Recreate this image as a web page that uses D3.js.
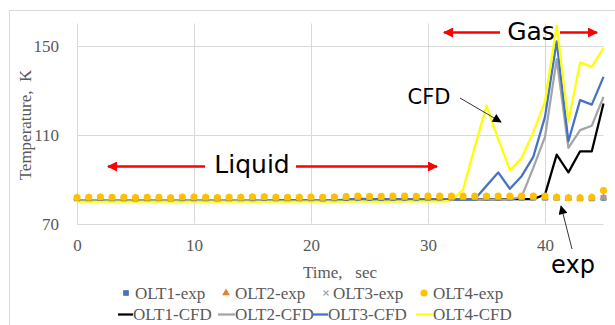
<!DOCTYPE html>
<html>
<head>
<meta charset="utf-8">
<script src="https://cdn.jsdelivr.net/npm/d3@7"></script>
<style>
  body { margin: 0; background: #fff; }
  svg text { font-family: "Liberation Serif", "Times New Roman", serif; }
  .note { font-family: "DejaVu Sans", Verdana, sans-serif; fill: #000; }
</style>
</head>
<body>
<div id="chart"></div>
<script>
// time, sec
var time = [0, 1, 2, 3, 4, 5, 6, 7, 8, 9, 10, 11, 12, 13, 14, 15, 16, 17, 18, 19, 20, 21, 22,
            23, 24, 25, 26, 27, 28, 29, 30, 31, 32, 33, 34, 35, 36, 37, 38, 39, 40, 41, 42, 43, 44, 45];

// experimental points, K
var olt1Exp = [81.3, 81.3, 81.4, 81.3, 81.3, 81.2, 81.3, 81.3, 81.2, 81.3, 81.3, 81.3, 81.2, 81.3, 81.3, 81.3,
               81.4, 81.3, 81.3, 81.3, 81.3, 81.2, 81.3, 81.4, 81.5, 81.4, 81.4, 81.5, 81.5, 81.5, 81.6,
               81.6, 81.6, 81.6, 81.6, 81.6, 81.6, 81.6, 81.6, 81.6, 81.6, 81.6, 81.4, 81.3, 81.3, 81.5];
var olt2Exp = [81.5, 81.5, 81.6, 81.5, 81.5, 81.4, 81.5, 81.5, 81.4, 81.5, 81.5, 81.5, 81.4, 81.5, 81.5, 81.5,
               81.6, 81.5, 81.5, 81.5, 81.5, 81.4, 81.5, 81.6, 81.7, 81.6, 81.6, 81.7, 81.7, 81.7, 81.8,
               81.8, 81.8, 81.8, 81.8, 81.8, 81.8, 81.8, 81.8, 81.8, 81.8, 81.7, 81.5, 81.5, 81.5, 81.7];
var olt3Exp = [81.4, 81.4, 81.5, 81.4, 81.4, 81.3, 81.4, 81.4, 81.3, 81.4, 81.4, 81.4, 81.3, 81.4, 81.4, 81.4,
               81.5, 81.4, 81.4, 81.4, 81.4, 81.3, 81.4, 81.5, 81.6, 81.5, 81.5, 81.6, 81.6, 81.6, 81.7,
               81.7, 81.7, 81.7, 81.7, 81.7, 81.7, 81.7, 81.7, 81.7, 81.7, 81.6, 81.4, 81.4, 81.4, 81.6];
var olt4Exp = [81.7, 81.8, 81.9, 81.8, 81.8, 81.7, 81.8, 81.8, 81.6, 81.9, 81.9, 81.8, 81.7, 81.8, 81.8, 82.0,
               82.0, 81.8, 81.8, 81.8, 81.9, 81.8, 81.9, 82.1, 82.3, 82.2, 82.2, 82.3, 82.3, 82.2, 82.3,
               82.3, 82.3, 82.3, 82.3, 82.3, 82.3, 82.3, 82.3, 82.3, 82.3, 81.8, 81.6, 81.6, 81.8, 84.8];

// CFD results, K
var olt1Cfd = [80.2, 80.2, 80.2, 80.2, 80.2, 80.2, 80.2, 80.2, 80.2, 80.2, 80.2, 80.2, 80.2, 80.2, 80.2, 80.2,
               80.2, 80.3, 80.5, 80.4, 80.3, 80.3, 80.4, 80.6, 81.0, 81.0, 80.9, 80.9, 80.9, 80.9, 80.9,
               80.9, 80.9, 80.9, 80.9, 80.9, 80.9, 81.0, 81.0, 81.0, 83.0, 101.0, 93.0, 102.5, 102.5, 124.0];
var olt2Cfd = [80.3, 80.3, 80.3, 80.3, 80.3, 80.3, 80.3, 80.3, 80.3, 80.3, 80.3, 80.3, 80.3, 80.3, 80.3, 80.3,
               80.3, 80.3, 80.4, 80.4, 80.3, 80.3, 80.4, 80.5, 80.8, 80.8, 80.7, 80.7, 80.7, 80.7, 80.7,
               80.7, 80.7, 80.7, 80.7, 80.7, 80.8, 80.9, 82.0, 95.0, 109.0, 144.0, 104.0, 112.0, 114.0, 127.0];
var olt3Cfd = [80.2, 80.2, 80.2, 80.2, 80.2, 80.2, 80.2, 80.2, 80.2, 80.2, 80.2, 80.2, 80.2, 80.2, 80.2, 80.2,
               80.2, 80.3, 80.5, 80.4, 80.3, 80.3, 80.4, 80.7, 81.2, 81.0, 80.9, 80.9, 80.9, 80.8, 80.8,
               80.8, 80.8, 80.8, 80.9, 87.0, 93.0, 85.6, 91.3, 100.0, 118.0, 152.0, 107.0, 125.5, 123.5, 136.0];
var olt4Cfd = [79.8, 79.8, 79.8, 79.8, 79.8, 79.8, 79.8, 79.8, 79.8, 79.8, 79.8, 79.8, 79.8, 79.8, 79.8, 79.8,
               79.8, 79.8, 79.8, 79.8, 79.8, 79.8, 79.8, 79.8, 79.9, 79.9, 79.9, 79.9, 80.0, 80.0, 80.0,
               80.0, 80.2, 85.3, 104.5, 123.0, 108.0, 94.0, 99.5, 111.0, 125.0, 159.0, 116.0, 142.5, 140.5, 149.0];

var xTicks = [0, 10, 20, 30, 40];
var yTicks = [70, 110, 150];

var expNames = ["OLT1-exp", "OLT2-exp", "OLT3-exp", "OLT4-exp"];
var cfdNames = ["OLT1-CFD", "OLT2-CFD", "OLT3-CFD", "OLT4-CFD"];

createChart();

function createChart() {
    var frame_width  = 615,
        frame_height = 325,
        grid_color   = "#d9d9d9",
        text_color   = "#595959";

    var svg = d3.select("#chart").append("svg")
        .attr("width", frame_width)
        .attr("height", frame_height);

    svg.append("rect")
        .attr("width", frame_width).attr("height", frame_height)
        .attr("fill", "#fff");

    // outer chart border (runs off the right and bottom)
    svg.append("rect")
        .attr("x", 9.5).attr("y", 10.5)
        .attr("width", 640).attr("height", 340)
        .attr("fill", "none")
        .attr("stroke", grid_color);

    var x = d3.scaleLinear().domain([0, 45]).range([77, 603.5]);
    var y = d3.scaleLinear().domain([70, 160]).range([223.5, 23.5]);

    // gridlines
    svg.append("g").selectAll("line.v")
        .data(xTicks).enter().append("line")
        .attr("x1", function(d) { return Math.round(x(d)) + 0.5; })
        .attr("x2", function(d) { return Math.round(x(d)) + 0.5; })
        .attr("y1", y(160)).attr("y2", y(70))
        .attr("stroke", grid_color);
    svg.append("g").selectAll("line.h")
        .data(yTicks).enter().append("line")
        .attr("x1", x(0)).attr("x2", x(45))
        .attr("y1", function(d) { return Math.round(y(d)) + 0.5; })
        .attr("y2", function(d) { return Math.round(y(d)) + 0.5; })
        .attr("stroke", grid_color);

    // axes (labels only, Excel style)
    var xAxis = svg.append("g")
        .attr("transform", "translate(0," + (y(70) + 10) + ")")
        .call(d3.axisBottom(x).tickValues(xTicks).tickSize(0).tickPadding(0));
    var yAxis = svg.append("g")
        .attr("transform", "translate(" + (x(0) - 18) + ",0)")
        .call(d3.axisLeft(y).tickValues(yTicks).tickSize(0).tickPadding(0));
    [xAxis, yAxis].forEach(function(a) {
        a.select(".domain").remove();
        a.selectAll("text")
            .attr("font-family", "Liberation Serif, serif")
            .attr("font-size", 17)
            .attr("fill", text_color);
    });
    xAxis.selectAll("text").attr("dy", "0.75em").attr("y", 5);
    yAxis.selectAll("text").attr("dy", "0.35em").attr("x", 0);

    svg.append("text")
        .attr("x", 340).attr("y", 272).attr("dy", "0.35em")
        .attr("text-anchor", "middle")
        .attr("font-size", 17).attr("fill", text_color)
        .attr("xml:space", "preserve")
        .text("Time,   sec");

    svg.append("text")
        .attr("transform", "translate(25,125) rotate(-90)")
        .attr("dy", "0.35em")
        .attr("text-anchor", "middle")
        .attr("font-size", 17).attr("fill", text_color)
        .attr("xml:space", "preserve")
        .text("Temperature,  K");

    // CFD lines
    var lineColors = ["#000000", "#a5a5a5", "#4472c4", "#ffff00"];
    var cfd = [olt1Cfd, olt2Cfd, olt3Cfd, olt4Cfd];
    var line = d3.line()
        .x(function(d, i) { return x(time[i]); })
        .y(function(d) { return y(d); });
    cfd.forEach(function(s, k) {
        svg.append("path")
            .datum(s)
            .attr("fill", "none")
            .attr("stroke", lineColors[k])
            .attr("stroke-width", 2.25)
            .attr("stroke-linejoin", "round")
            .attr("d", line);
    });

    // experimental markers
    var markColors = ["#4472c4", "#ed7d31", "#a5a5a5", "#ffc000"];
    var markSymbols = [d3.symbolSquare, d3.symbolTriangle, d3.symbolCross, d3.symbolCircle];
    var markSizes = [32, 26, 24, 40];
    var exp = [olt1Exp, olt2Exp, olt3Exp, olt4Exp];
    function drawMark(sel, k) {
        if (k == 2) {
            // x mark
            sel.append("path")
                .attr("d", "M-2.5,-2.5L2.5,2.5M-2.5,2.5L2.5,-2.5")
                .attr("stroke", markColors[k]).attr("stroke-width", 1.2)
                .attr("fill", "none");
        } else {
            sel.append("path")
                .attr("d", d3.symbol().type(markSymbols[k]).size(markSizes[k]))
                .attr("fill", markColors[k]);
        }
    }
    exp.forEach(function(s, k) {
        var g = svg.append("g");
        s.forEach(function(v, i) {
            var m = g.append("g")
                .attr("transform", "translate(" + x(time[i]) + "," + y(v) + ")");
            drawMark(m, k);
        });
    });

    // legend row 1
    var legMarkX = [126, 226, 326, 424],
        legTextX = [135, 235, 333, 433];
    expNames.forEach(function(n, k) {
        var m = svg.append("g").attr("transform", "translate(" + legMarkX[k] + ",293)");
        drawMark(m, k);
        svg.append("text")
            .attr("x", legTextX[k]).attr("y", 293).attr("dy", "0.35em")
            .attr("font-size", 17).attr("fill", text_color)
            .text(n);
    });

    // legend row 2
    var legLineX = [118, 218, 312, 416],
        legText2X = [133, 235, 328, 433];
    cfdNames.forEach(function(n, k) {
        svg.append("line")
            .attr("x1", legLineX[k]).attr("x2", legText2X[k])
            .attr("y1", 314.5).attr("y2", 314.5)
            .attr("stroke", lineColors[k]).attr("stroke-width", 2.25);
        svg.append("text")
            .attr("x", legText2X[k]).attr("y", 314).attr("dy", "0.35em")
            .attr("font-size", 17).attr("fill", text_color)
            .text(n);
    });

    // annotations
    var defs = svg.append("defs");
    defs.append("marker").attr("id", "redHead")
        .attr("viewBox", "0 0 10 10").attr("refX", 9).attr("refY", 5)
        .attr("markerWidth", 5).attr("markerHeight", 4).attr("orient", "auto")
        .attr("markerUnits", "strokeWidth")
        .append("path").attr("d", "M0,0L10,5L0,10z").attr("fill", "#ff0000");
    defs.append("marker").attr("id", "blackHead")
        .attr("viewBox", "0 0 10 10").attr("refX", 9).attr("refY", 5)
        .attr("markerWidth", 12).attr("markerHeight", 9).attr("orient", "auto")
        .attr("markerUnits", "userSpaceOnUse")
        .append("path").attr("d", "M0,0L10,5L0,10z").attr("fill", "#000");

    var redArrows = [[205, 166.5, 108, 166.5], [296, 166.5, 437, 166.5],
                     [500, 32.5, 444, 32.5], [560, 32.5, 597, 32.5]];
    redArrows.forEach(function(a) {
        svg.append("line")
            .attr("x1", a[0]).attr("y1", a[1]).attr("x2", a[2]).attr("y2", a[3])
            .attr("stroke", "#ff0000").attr("stroke-width", 2.5)
            .attr("marker-end", "url(#redHead)");
    });

    var blackArrows = [[460, 98, 501, 122], [572, 249, 561, 206]];
    blackArrows.forEach(function(a) {
        svg.append("line")
            .attr("x1", a[0]).attr("y1", a[1]).attr("x2", a[2]).attr("y2", a[3])
            .attr("stroke", "#000").attr("stroke-width", 0.8)
            .attr("marker-end", "url(#blackHead)");
    });

    var notes = [["Liquid", 252, 164, 25], ["Gas", 531, 31, 25],
                 ["CFD", 429, 97, 21], ["exp", 573, 265, 24]];
    notes.forEach(function(n) {
        svg.append("text")
            .attr("class", "note")
            .attr("x", n[1]).attr("y", n[2]).attr("dy", "0.35em")
            .attr("text-anchor", "middle")
            .attr("font-size", n[3])
            .text(n[0]);
    });
}
</script>
</body>
</html>
